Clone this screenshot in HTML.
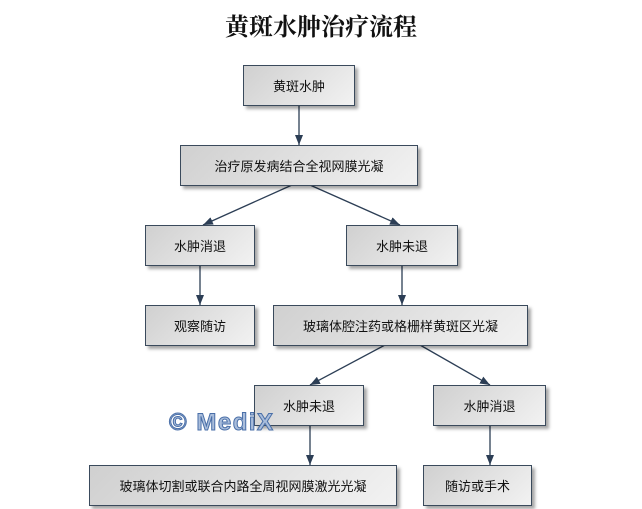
<!DOCTYPE html><html><head><meta charset="utf-8"><style>
body{margin:0;width:642px;height:509px;background:#fff;position:relative;overflow:hidden;font-family:"Liberation Sans","Noto Sans CJK SC",sans-serif}
.t{position:absolute;top:7px;left:0;width:642px;text-align:center;font:bold 24px "Liberation Serif","Noto Serif CJK SC",serif;color:#111}
.b{position:absolute;box-sizing:border-box;border:1px solid #3a4a5c;background:linear-gradient(135deg,#d0d0d0,#f2f2f2);box-shadow:3px 3px 3px rgba(0,0,0,.35);display:flex;align-items:center;justify-content:center;font-size:13px;color:#111;height:41px}
.w{position:absolute;left:169px;top:409px;font:bold 24px "Liberation Sans",sans-serif;color:#a9bddb;-webkit-text-stroke:1px #4a6fa8;letter-spacing:1.5px}
</style></head><body>
<div class="t">黄斑水肿治疗流程</div>
<svg width="642" height="509" style="position:absolute;left:0;top:0">
<defs><marker id="a" markerWidth="10" markerHeight="8" refX="10" refY="4" orient="auto" markerUnits="userSpaceOnUse"><path d="M0,0L10,4L0,8z" fill="#2c3e55"/></marker></defs>
<g stroke="#2c3e55" stroke-width="1.3" marker-end="url(#a)">
<line x1="299" y1="105" x2="299" y2="145"/>
<line x1="292" y1="185" x2="203" y2="225"/>
<line x1="310" y1="185" x2="400" y2="225"/>
<line x1="200" y1="265" x2="200" y2="305"/>
<line x1="402" y1="265" x2="402" y2="305"/>
<line x1="385" y1="345" x2="310" y2="385"/>
<line x1="420" y1="345" x2="490" y2="385"/>
<line x1="310" y1="425" x2="310" y2="465"/>
<line x1="490" y1="425" x2="490" y2="465"/>
</g></svg>
<div class="b" style="left:243px;top:65px;width:112px">黄斑水肿</div>
<div class="b" style="left:180px;top:145px;width:238px">治疗原发病结合全视网膜光凝</div>
<div class="b" style="left:145px;top:225px;width:110px">水肿消退</div>
<div class="b" style="left:346px;top:225px;width:112px">水肿未退</div>
<div class="b" style="left:145px;top:305px;width:110px">观察随访</div>
<div class="b" style="left:273px;top:305px;width:255px">玻璃体腔注药或格栅样黄斑区光凝</div>
<div class="b" style="left:254px;top:385px;width:110px">水肿未退</div>
<div class="b" style="left:433px;top:385px;width:113px">水肿消退</div>
<div class="b" style="left:89px;top:465px;width:308px">玻璃体切割或联合内路全周视网膜激光光凝</div>
<div class="b" style="left:423px;top:465px;width:109px">随访或手术</div>
<div class="w">© MediX</div>
</body></html>
